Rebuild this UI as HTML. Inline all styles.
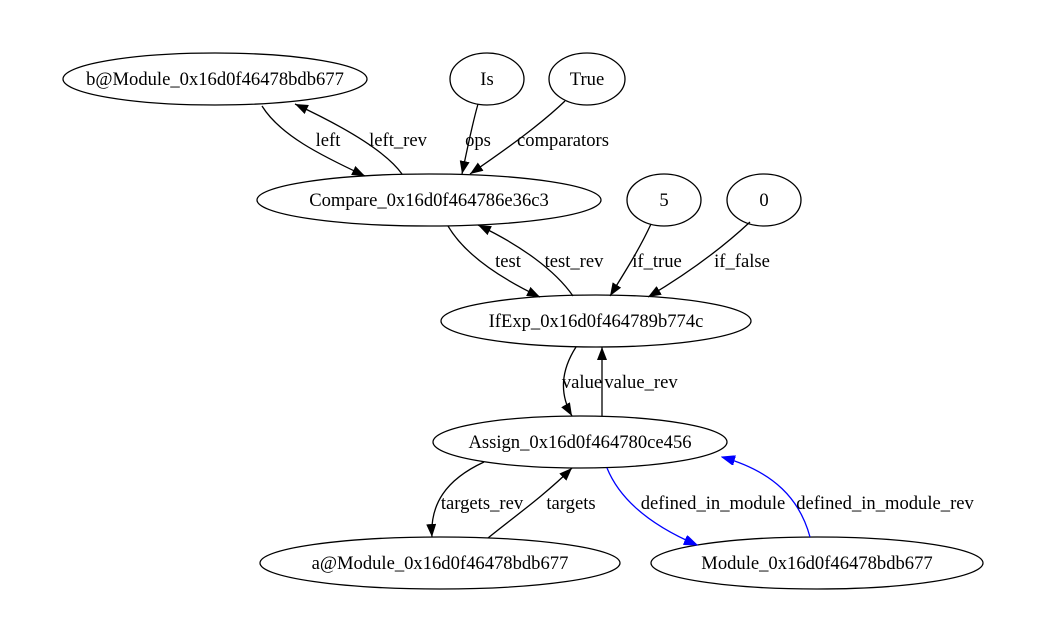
<!DOCTYPE html>
<html><head><meta charset="utf-8"><style>
html,body{margin:0;padding:0;background:#fff;}
svg{display:block;}
text{font-family:"Liberation Serif",serif;font-size:18.6px;fill:#000;}
</style></head><body>
<svg width="1038" height="644" viewBox="0 0 1038 644" xmlns="http://www.w3.org/2000/svg">
<defs>
<marker id="a" markerWidth="14" markerHeight="10" refX="13" refY="5" orient="auto" markerUnits="userSpaceOnUse"><path d="M0,0 L13,5 L0,10 z" fill="#000"/></marker>
<marker id="b" markerWidth="14" markerHeight="10" refX="13" refY="5" orient="auto" markerUnits="userSpaceOnUse"><path d="M0,0 L13,5 L0,10 z" fill="#00f" stroke="#00f"/></marker>
</defs>
<g fill="none" stroke="#000" stroke-width="1.3">
<ellipse cx="215" cy="79" rx="152" ry="26"/>
<ellipse cx="487" cy="79" rx="37" ry="26"/>
<ellipse cx="587" cy="79" rx="38" ry="26"/>
<ellipse cx="429" cy="200" rx="172" ry="26"/>
<ellipse cx="664" cy="200" rx="37" ry="26"/>
<ellipse cx="764" cy="200" rx="37" ry="26"/>
<ellipse cx="596" cy="321" rx="155" ry="26"/>
<ellipse cx="580" cy="442" rx="147" ry="26"/>
<ellipse cx="440" cy="563" rx="180" ry="26"/>
<ellipse cx="817" cy="563" rx="166" ry="26"/>

<path d="M262,106 C280,135 320,155 365,176" marker-end="url(#a)"/>
<path d="M402,174 C385,150 340,125 295,104" marker-end="url(#a)"/>
<path d="M478,104 C472,125 467,150 462,174" marker-end="url(#a)"/>
<path d="M565,101 C540,125 505,150 470,174" marker-end="url(#a)"/>
<path d="M448,226 C465,255 500,278 540,297" marker-end="url(#a)"/>
<path d="M573,296 C555,270 520,245 478,225" marker-end="url(#a)"/>
<path d="M651,224 C640,248 625,272 610,296" marker-end="url(#a)"/>
<path d="M750,222 C720,250 685,275 648,297" marker-end="url(#a)"/>
<path d="M576,347 C560,372 560,395 572,416" marker-end="url(#a)"/>
<path d="M602,416 C602,395 602,370 602,347" marker-end="url(#a)"/>
<path d="M484,462 C445,480 430,505 432,537" marker-end="url(#a)"/>
<path d="M488,538 C510,520 545,495 572,468" marker-end="url(#a)"/>
</g>
<g fill="none" stroke="#00f" stroke-width="1.3">
<path d="M607,468 C620,500 650,525 697,545" marker-end="url(#b)"/>
<path d="M810,537 C800,500 775,472 722,457" marker-end="url(#b)"/>
</g>
<g text-anchor="middle">
<text x="215" y="85">b@Module_0x16d0f46478bdb677</text>
<text x="487" y="85">Is</text>
<text x="587" y="85">True</text>
<text x="429" y="206">Compare_0x16d0f464786e36c3</text>
<text x="664" y="206">5</text>
<text x="764" y="206">0</text>
<text x="596" y="327">IfExp_0x16d0f464789b774c</text>
<text x="580" y="448">Assign_0x16d0f464780ce456</text>
<text x="440" y="569">a@Module_0x16d0f46478bdb677</text>
<text x="817" y="569">Module_0x16d0f46478bdb677</text>
<text x="328" y="146">left</text>
<text x="398" y="146">left_rev</text>
<text x="478" y="146">ops</text>
<text x="563" y="146">comparators</text>
<text x="508" y="267">test</text>
<text x="574" y="267">test_rev</text>
<text x="657" y="267">if_true</text>
<text x="742" y="267">if_false</text>
<text x="582" y="388">value</text>
<text x="641" y="388">value_rev</text>
<text x="482" y="509">targets_rev</text>
<text x="571" y="509">targets</text>
<text x="713" y="509">defined_in_module</text>
<text x="885" y="509">defined_in_module_rev</text>
</g>
</svg>
</body></html>
